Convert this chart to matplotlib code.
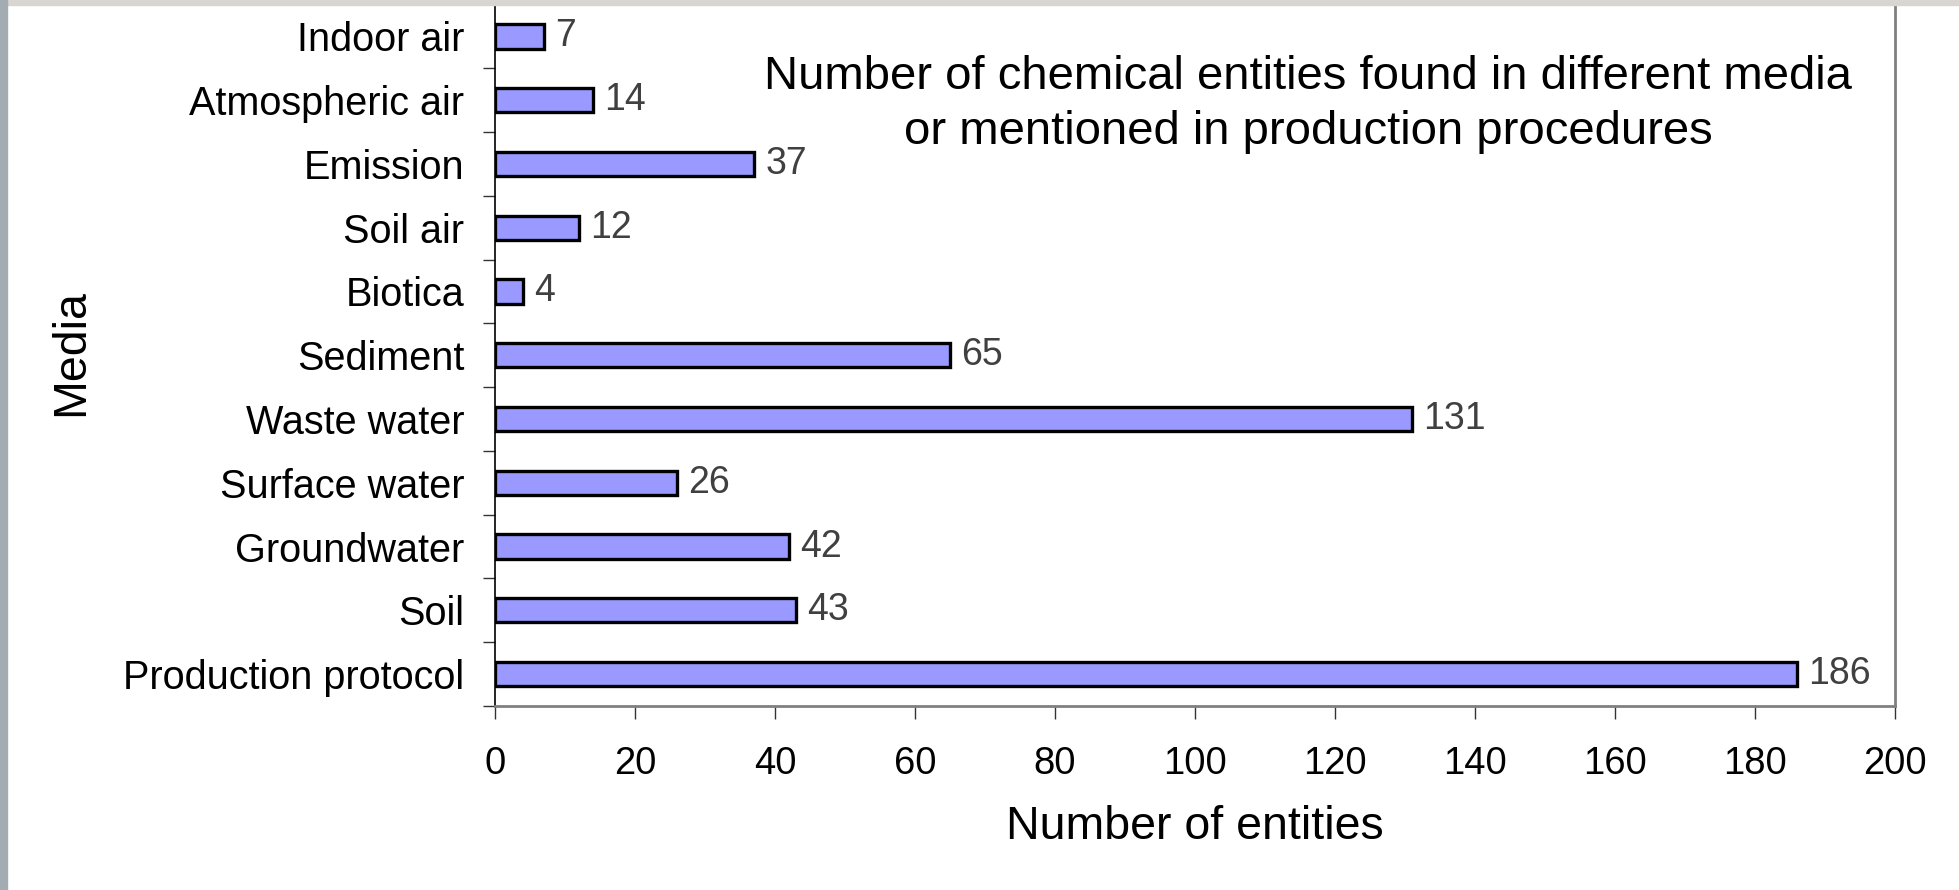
import numpy as np
import matplotlib
import matplotlib.pyplot as plt
from matplotlib.patches import Rectangle

matplotlib.use('Agg')
plt.rcParams['font.family'] = ['Liberation Sans', 'DejaVu Sans']

media = ['Indoor air', 'Atmospheric air', 'Emission', 'Soil air', 'Biotica', 'Sediment',
         'Waste water', 'Surface water', 'Groundwater', 'Soil', 'Production protocol']
counts = [7, 14, 37, 12, 4, 65, 131, 26, 42, 43, 186]
xticks = [0, 20, 40, 60, 80, 100, 120, 140, 160, 180, 200]
title_lines = ['Number of chemical entities found in different media',
               'or mentioned in production procedures']

W, H = 1959, 890
fig = plt.figure(figsize=(W / 100, H / 100), dpi=100)
fig.patch.set_facecolor('white')
# slide background strips at top and left edge
fig.patches.append(Rectangle((0, 1 - 5 / H), 1, 5 / H, transform=fig.transFigure, color='#d9d5d1', zorder=0))
fig.patches.append(Rectangle((0, 0), 7 / W, 1, transform=fig.transFigure, color='#a3abb3', zorder=0))

ax = fig.add_axes([495 / W, 1 - 706 / H, 1400 / W, 701.5 / H])

ys = np.arange(len(media))[::-1]
bars = ax.barh(ys, counts, height=0.38, color='#9999ff', edgecolor='black', linewidth=2.4, zorder=3)
for y, c in zip(ys, counts):
    ax.annotate(str(c), (c, y), xytext=(8, 0), textcoords='offset points',
                ha='left', va='center', fontsize=27, color='#404040')

ax.set_xlim(0, 200)
ax.set_ylim(-0.5, len(media) - 0.5)
ax.set_xticks(xticks)
ax.set_xticklabels([str(t) for t in xticks], fontsize=27.5)
ax.set_yticks(ys)
ax.set_yticklabels(media, fontsize=28.5)
ax.set_yticks(np.arange(-0.5, len(media)), minor=True)
ax.tick_params(axis='y', which='major', length=0, pad=22)
ax.tick_params(axis='y', which='minor', length=9, width=1, color='#333333', direction='out')
ax.tick_params(axis='x', which='major', length=9, width=1, color='#333333', direction='out', pad=20)

ax.spines['left'].set_color('black')
ax.spines['left'].set_linewidth(1.2)
for s in ['top', 'right', 'bottom']:
    ax.spines[s].set_color('#808080')
    ax.spines[s].set_linewidth(2)

# title inside the plot area, one text per line
for line, yy in zip(title_lines, [0.897, 0.818]):
    ax.text(0.581, yy, line, transform=ax.transAxes, ha='center', va='center', fontsize=34)

fig.text(1195 / W, 1 - 827 / H, 'Number of entities', ha='center', va='center', fontsize=33.5)
fig.text(71 / W, 1 - 353 / H, 'Media', ha='center', va='center', fontsize=33.5, rotation=90)

plt.savefig('out.png', dpi=100)
